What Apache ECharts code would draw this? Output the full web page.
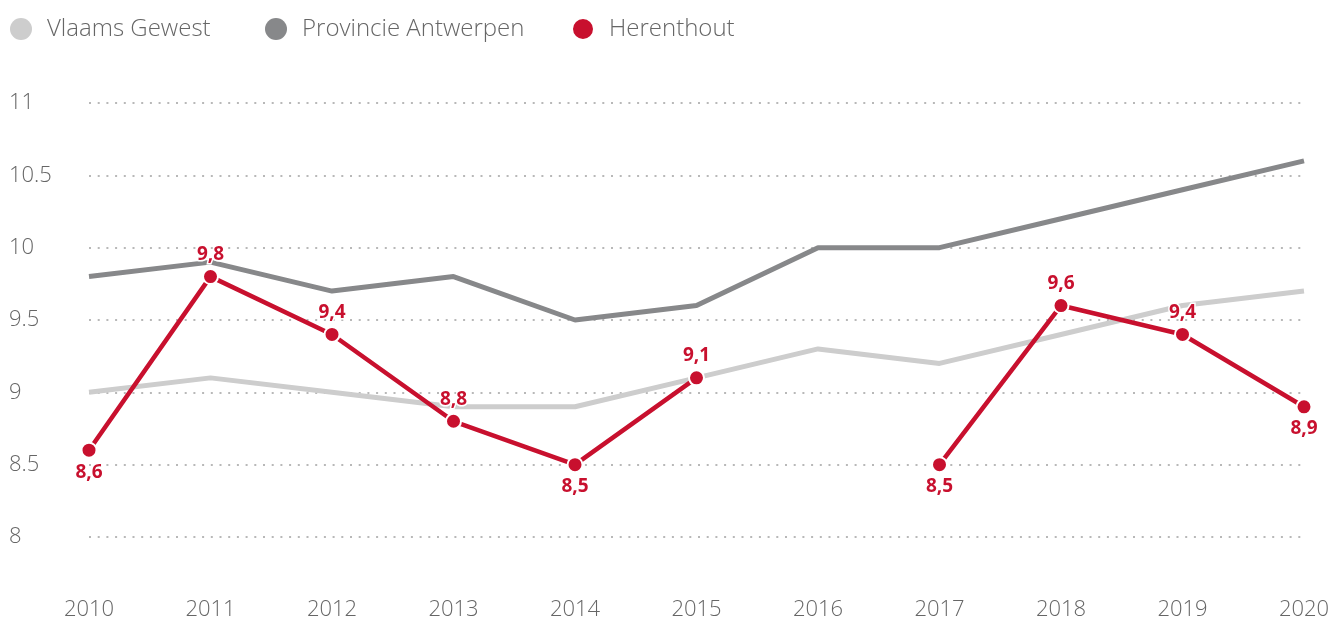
<!DOCTYPE html>
<html>
<head>
<meta charset="utf-8">
<script src="https://cdn.jsdelivr.net/npm/echarts@6/dist/echarts.min.js"></script>
<style>
  html, body { margin: 0; padding: 0; background: #fff; }
  #chart { width: 1335px; height: 624px; }
</style>
</head>
<body>
<div id="chart"></div>
<script>
const years = ['2010', '2011', '2012', '2013', '2014', '2015', '2016', '2017', '2018', '2019', '2020'];
const seriesNames = ['Vlaams Gewest', 'Provincie Antwerpen', 'Herenthout'];
const vlaams = [9.0, 9.1, 9.0, 8.9, 8.9, 9.1, 9.3, 9.2, 9.4, 9.6, 9.7];
const antwerpen = [9.8, 9.9, 9.7, 9.8, 9.5, 9.6, 10.0, 10.0, 10.2, 10.4, 10.6];
const herenthout = [8.6, 9.8, 9.4, 8.8, 8.5, 9.1, null, 8.5, 9.6, 9.4, 8.9];
// waar het label staat t.o.v. het punt
const labelSide = ['bottom', 'top', 'top', 'top', 'bottom', 'top', 'top', 'bottom', 'top', 'top', 'bottom'];

const FONT = 'Open Sans';
const RED = '#c8102e';
const legendLeft = [5, 260, 566];

const chart = echarts.init(document.getElementById('chart'));

chart.setOption({
  animation: false,
  legend: seriesNames.map((n, i) => ({
    left: legendLeft[i], top: 12,
    itemWidth: 22, itemHeight: 22,
    icon: 'circle',
    textStyle: { fontFamily: FONT, fontSize: 24, fontWeight: 300, color: '#666', padding: [0, 0, 0, 10] },
    data: [n]
  })),
  grid: { left: 89, right: 31, top: 103, bottom: 87 },
  xAxis: {
    type: 'category', data: years, boundaryGap: false,
    axisLine: { show: false }, axisTick: { show: false },
    axisLabel: { fontFamily: FONT, fontSize: 22, fontWeight: 300, color: '#666', margin: 62 }
  },
  yAxis: {
    type: 'value', min: 8, max: 11, interval: 0.5,
    axisLine: { show: false }, axisTick: { show: false },
    axisLabel: { fontFamily: FONT, fontSize: 22, fontWeight: 300, color: '#666', align: 'left', margin: 80 },
    splitLine: { lineStyle: { color: '#b8b8b8', width: 2, type: [2, 6.7] } }
  },
  series: [
    {
      name: 'Vlaams Gewest', type: 'line', data: vlaams,
      symbol: 'none', color: '#cdcdcd',
      lineStyle: { width: 5, color: '#cdcdcd' }
    },
    {
      name: 'Provincie Antwerpen', type: 'line', data: antwerpen,
      symbol: 'none', color: '#87888a',
      lineStyle: { width: 5, color: '#87888a' }
    },
    {
      name: 'Herenthout', type: 'line',
      data: herenthout.map((v, i) => ({ value: v, label: { position: labelSide[i] } })),
      color: RED,
      symbol: 'circle', symbolSize: 15,
      itemStyle: { color: RED, borderColor: '#fff', borderWidth: 2 },
      lineStyle: { width: 4.5, color: RED },
      label: {
        show: true, distance: 4,
        fontFamily: FONT, fontSize: 19, fontWeight: 'bold', color: RED,
        textBorderColor: '#fff', textBorderWidth: 3,
        formatter: p => String(p.value).replace('.', ',')
      }
    }
  ]
});
</script>
</body>
</html>
